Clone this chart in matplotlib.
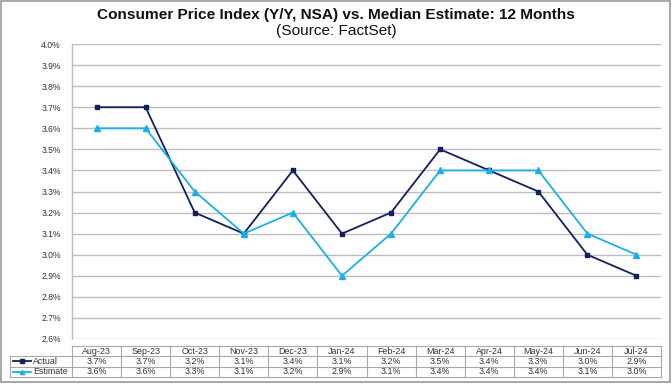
import matplotlib
matplotlib.use("Agg")
import matplotlib.pyplot as plt
from matplotlib.lines import Line2D
from matplotlib.patches import Rectangle

months = ["Aug-23", "Sep-23", "Oct-23", "Nov-23", "Dec-23", "Jan-24",
          "Feb-24", "Mar-24", "Apr-24", "May-24", "Jun-24", "Jul-24"]
actual = [3.7, 3.7, 3.2, 3.1, 3.4, 3.1, 3.2, 3.5, 3.4, 3.3, 3.0, 2.9]
estimate = [3.6, 3.6, 3.3, 3.1, 3.2, 2.9, 3.1, 3.4, 3.4, 3.4, 3.1, 3.0]
yticks = [2.6 + 0.1 * i for i in range(15)]

plt.rcParams['font.family'] = ['Liberation Sans', 'DejaVu Sans']

W, H = 672, 384
fig = plt.figure(figsize=(W / 100, H / 100), dpi=100)

def fx(px):
    return px / W

def fy(py):
    return 1 - py / H

navy = "#13205C"
light = "#1AB0E8"
grid_c = "#BDBDBD"
text_c = "#333333"

# figure border
fig.patches.append(Rectangle((fx(1), fy(382)), fx(669), (381) / H,
                             transform=fig.transFigure, fill=False,
                             edgecolor="#9A9A9A", linewidth=1.2))

left, right, top, bottom = 72, 661, 44, 339
ax = fig.add_axes([fx(left), fy(bottom), fx(right - left), (bottom - top) / H])
x = list(range(len(months)))
ax.plot(x, actual, color=navy, linewidth=1.3, marker="s", markersize=3.2,
        zorder=3)
ax.plot(x, estimate, color=light, linewidth=1.3, marker="^", markersize=4,
        zorder=3)
ax.set_xlim(-0.5, len(months) - 0.5)
ax.set_ylim(2.6, 4.0)
ax.set_yticks(yticks)
ax.set_yticklabels([f"{v:.1f}%" for v in yticks], fontsize=6.2, color=text_c)
ax.yaxis.grid(True, color=grid_c, linewidth=1.0)
ax.set_axisbelow(True)
ax.set_xticks([])
ax.tick_params(axis="y", length=0, pad=8)
for s in ["top", "right", "bottom"]:
    ax.spines[s].set_visible(False)
ax.spines["left"].set_color(grid_c)
ax.spines["left"].set_linewidth(1.0)

# Title
fig.text(0.5, fy(15), "Consumer Price Index (Y/Y, NSA) vs. Median Estimate: 12 Months",
         ha="center", va="center", fontsize=11.1, fontweight="bold", color="#111111")
fig.text(0.5, fy(31), "(Source: FactSet)", ha="center", va="center",
         fontsize=11.1, color="#111111")

# Data table
tab_top, row_h = 346, 10.3
tab_left = 10
colw = (right - left) / len(months)
line_kw = dict(transform=fig.transFigure, color="#A8A8A8", linewidth=0.8)
n_rows = 3
fig.add_artist(Line2D([fx(left), fx(right)], [fy(tab_top), fy(tab_top)], **line_kw))
for r in range(1, n_rows + 1):
    yy = fy(tab_top + r * row_h)
    fig.add_artist(Line2D([fx(tab_left), fx(right)], [yy, yy], **line_kw))
fig.add_artist(Line2D([fx(tab_left), fx(tab_left)],
                      [fy(tab_top + row_h), fy(tab_top + 3 * row_h)], **line_kw))
for c in range(len(months) + 1):
    xx = fx(left + c * colw)
    fig.add_artist(Line2D([xx, xx], [fy(tab_top), fy(tab_top + 3 * row_h)], **line_kw))

for i, m in enumerate(months):
    cx = fx(left + (i + 0.5) * colw)
    fig.text(cx, fy(tab_top + 0.5 * row_h), m, ha="center", va="center",
             fontsize=6.4, color=text_c)
    fig.text(cx, fy(tab_top + 1.5 * row_h), f"{actual[i]:.1f}%", ha="center",
             va="center", fontsize=6.4, color=text_c)
    fig.text(cx, fy(tab_top + 2.5 * row_h), f"{estimate[i]:.1f}%", ha="center",
             va="center", fontsize=6.4, color=text_c)

for r, (name, col, mk) in enumerate([("Actual", navy, "s"), ("Estimate", light, "^")]):
    yy = fy(tab_top + (r + 1.5) * row_h)
    fig.add_artist(Line2D([fx(13), fx(31)], [yy, yy], transform=fig.transFigure,
                          color=col, linewidth=1.3))
    fig.add_artist(Line2D([fx(22)], [yy], transform=fig.transFigure, color=col,
                          marker=mk, markersize=3, linestyle="none"))
    fig.text(fx(33), yy, name, ha="left", va="center", fontsize=6.4, color=text_c)

fig.savefig("out.png", dpi=100)
